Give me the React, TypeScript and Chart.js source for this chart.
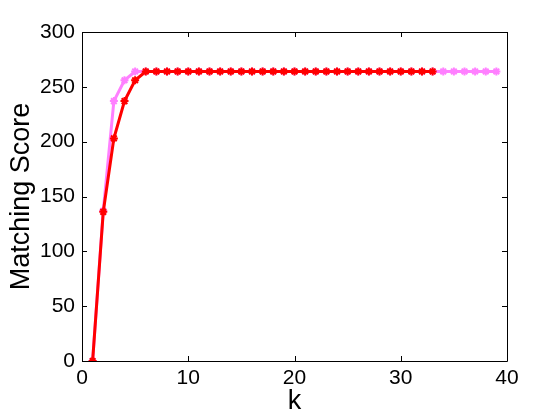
import React, { useEffect, useRef } from "react";
import { Chart, registerables } from "chart.js";

Chart.register(...registerables);

const kPink = [1,2,3,4,5,6,7,8,9,10,11,12,13,14,15,16,17,18,19,20,21,22,23,24,25,26,27,28,29,30,31,32,33,34,35,36,37,38,39];
const scorePink = [0,137,237,256,264,264,264,264,264,264,264,264,264,264,264,264,264,264,264,264,264,264,264,264,264,264,264,264,264,264,264,264,264,264,264,264,264,264,264];
const kRed = [1,2,3,4,5,6,7,8,9,10,11,12,13,14,15,16,17,18,19,20,21,22,23,24,25,26,27,28,29,30,31,32,33];
const scoreRed = [0,136,203,237,256,264,264,264,264,264,264,264,264,264,264,264,264,264,264,264,264,264,264,264,264,264,264,264,264,264,264,264,264];
const xTicks = [0,10,20,30,40];
const yTicks = [0,50,100,150,200,250,300];

const FONT = "'Liberation Sans', Arial, Helvetica, sans-serif";

const boxPlugin = {
  id: "matlabBox",
  afterDatasetsDraw(chart: any) {
    const { ctx, chartArea: a, scales } = chart;
    const L = 5;
    ctx.save();
    ctx.strokeStyle = "#000";
    ctx.lineWidth = 1;
    ctx.beginPath();
    ctx.rect(Math.round(a.left) + 0.5, Math.round(a.top) + 0.5, Math.round(a.right - a.left), Math.round(a.bottom - a.top));
    for (const v of xTicks) {
      const x = Math.round(scales.x.getPixelForValue(v)) + 0.5;
      ctx.moveTo(x, a.bottom); ctx.lineTo(x, a.bottom - L);
      ctx.moveTo(x, a.top); ctx.lineTo(x, a.top + L);
    }
    for (const v of yTicks) {
      const y = Math.round(scales.y.getPixelForValue(v)) + 0.5;
      ctx.moveTo(a.left, y); ctx.lineTo(a.left + L, y);
      ctx.moveTo(a.right, y); ctx.lineTo(a.right - L, y);
    }
    ctx.stroke();
    ctx.restore();
  },
};

export default function App() {
  const ref = useRef<HTMLCanvasElement>(null);
  useEffect(() => {
    document.body.style.margin = "0";
    const chart = new Chart(ref.current!, {
      type: "line",
      data: {
        datasets: [
          {
            data: kRed.map((k, i) => ({ x: k, y: scoreRed[i] })),
            borderColor: "#ff0000",
            backgroundColor: "#ff0000",
            borderWidth: 3,
            pointStyle: "star",
            pointRadius: 4,
            pointBorderWidth: 2,
            order: 0,
          },
          {
            data: kPink.map((k, i) => ({ x: k, y: scorePink[i] })),
            borderColor: "#ff80ff",
            backgroundColor: "#ff80ff",
            borderWidth: 3,
            pointStyle: "star",
            pointRadius: 4,
            pointBorderWidth: 2,
            order: 1,
          },
        ],
      },
      options: {
        animation: false,
        responsive: false,
        maintainAspectRatio: false,
        layout: { padding: { left: 0, right: 53, top: 32, bottom: 0 } },
        plugins: { legend: { display: false }, tooltip: { enabled: false } },
        scales: {
          x: {
            type: "linear",
            min: 0,
            max: 40,
            afterBuildTicks: (s: any) => { s.ticks = xTicks.map((v) => ({ value: v })); },
            afterFit: (s: any) => { s.height = 59; },
            grid: { display: false, drawTicks: false },
            border: { display: false },
            ticks: { color: "#000", font: { family: FONT, size: 21 }, padding: 5, maxRotation: 0 },
            title: { display: true, text: "k", color: "#000", font: { family: FONT, size: 27 }, padding: { top: 0, bottom: 2 } },
          },
          y: {
            min: 0,
            max: 300,
            afterBuildTicks: (s: any) => { s.ticks = yTicks.map((v) => ({ value: v })); },
            afterFit: (s: any) => { s.width = 82; },
            grid: { display: false, drawTicks: false },
            border: { display: false },
            ticks: { color: "#000", font: { family: FONT, size: 21 }, padding: 7 },
            title: { display: true, text: "Matching Score", color: "#000", font: { family: FONT, size: 27 }, padding: { top: 5, bottom: 0 } },
          },
        },
      },
      plugins: [boxPlugin],
    });
    return () => chart.destroy();
  }, []);
  return (
    <div style={{ width: 560, height: 420, background: "#fff" }}>
      <canvas ref={ref} width={560} height={420} style={{ width: 560, height: 420, display: "block" }} />
    </div>
  );
}
